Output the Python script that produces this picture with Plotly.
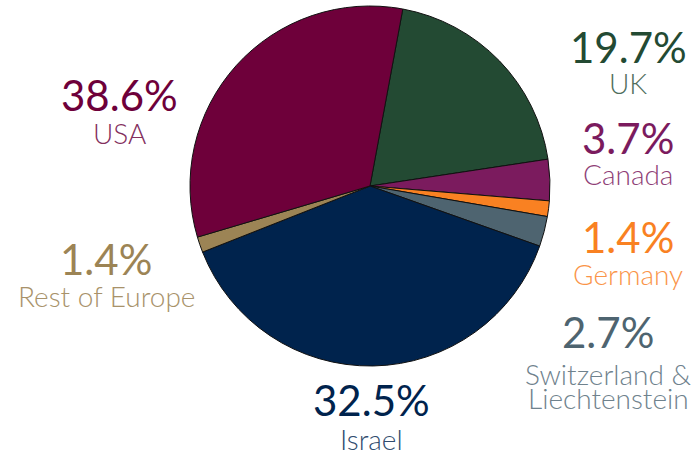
import plotly.graph_objects as go

# slice order (clockwise from the top, starting with UK)
slice_names = ["UK", "Canada", "Germany", "Switzerland & Liechtenstein", "Israel", "Rest of Europe", "USA"]
slice_values = [19.7, 3.7, 1.4, 2.7, 38.6, 1.4, 32.5]
colors = ["#234a33", "#7b1b5e", "#f98122", "#4e6470", "#00234d", "#9c8455", "#6e003a"]

# outside labels as printed on the chart
label_pct = ["19.7%", "3.7%", "1.4%", "2.7%", "32.5%", "1.4%", "38.6%"]
label_lines = [["UK"], ["Canada"], ["Germany"], ["Switzerland &", "Liechtenstein"],
               ["Israel"], ["Rest of Europe"], ["USA"]]
label_colors = ["#4f6e5c", "#8f3f77", "#fa9448", "#6f828d", "#2f4c6e", "#a8926a", "#84305e"]

W, H = 698, 456
fig = go.Figure(go.Pie(
    values=slice_values,
    labels=slice_names,
    sort=False,
    direction="clockwise",
    rotation=10.5,
    marker=dict(colors=colors, line=dict(color="#111111", width=1)),
    textinfo="none",
    hoverinfo="label+percent",
    showlegend=False,
    domain=dict(x=[190 / W, 550 / W], y=[1 - 366 / H, 1 - 6 / H]),
))

# label layout (pixel centres): x, percentage y, list of line y's
layout_pos = [
    (628, 47, [83]),
    (628, 138, [174]),
    (628, 237, [274]),
    (608, 332, [374, 398]),
    (371, 400, [439]),
    (106, 259, [296]),
    (119, 95.5, [132.5]),
]

font_family = "Lato"
for pct, lines, col, lcol, (x, yp, yls) in zip(label_pct, label_lines, colors, label_colors, layout_pos):
    fig.add_annotation(x=x / W, y=1 - yp / H, xref="paper", yref="paper",
                       text=pct, showarrow=False,
                       font=dict(family=font_family, size=42, color=col, weight=400),
                       xanchor="center", yanchor="middle")
    for line, yl in zip(lines, yls):
        fig.add_annotation(x=x / W, y=1 - yl / H, xref="paper", yref="paper",
                           text=line, showarrow=False,
                           font=dict(family=font_family, size=28, color=lcol, weight=300),
                           xanchor="center", yanchor="middle")

fig.update_layout(width=W, height=H, margin=dict(l=0, r=0, t=0, b=0),
                  paper_bgcolor="white", plot_bgcolor="white")
fig.write_html("out.html")
